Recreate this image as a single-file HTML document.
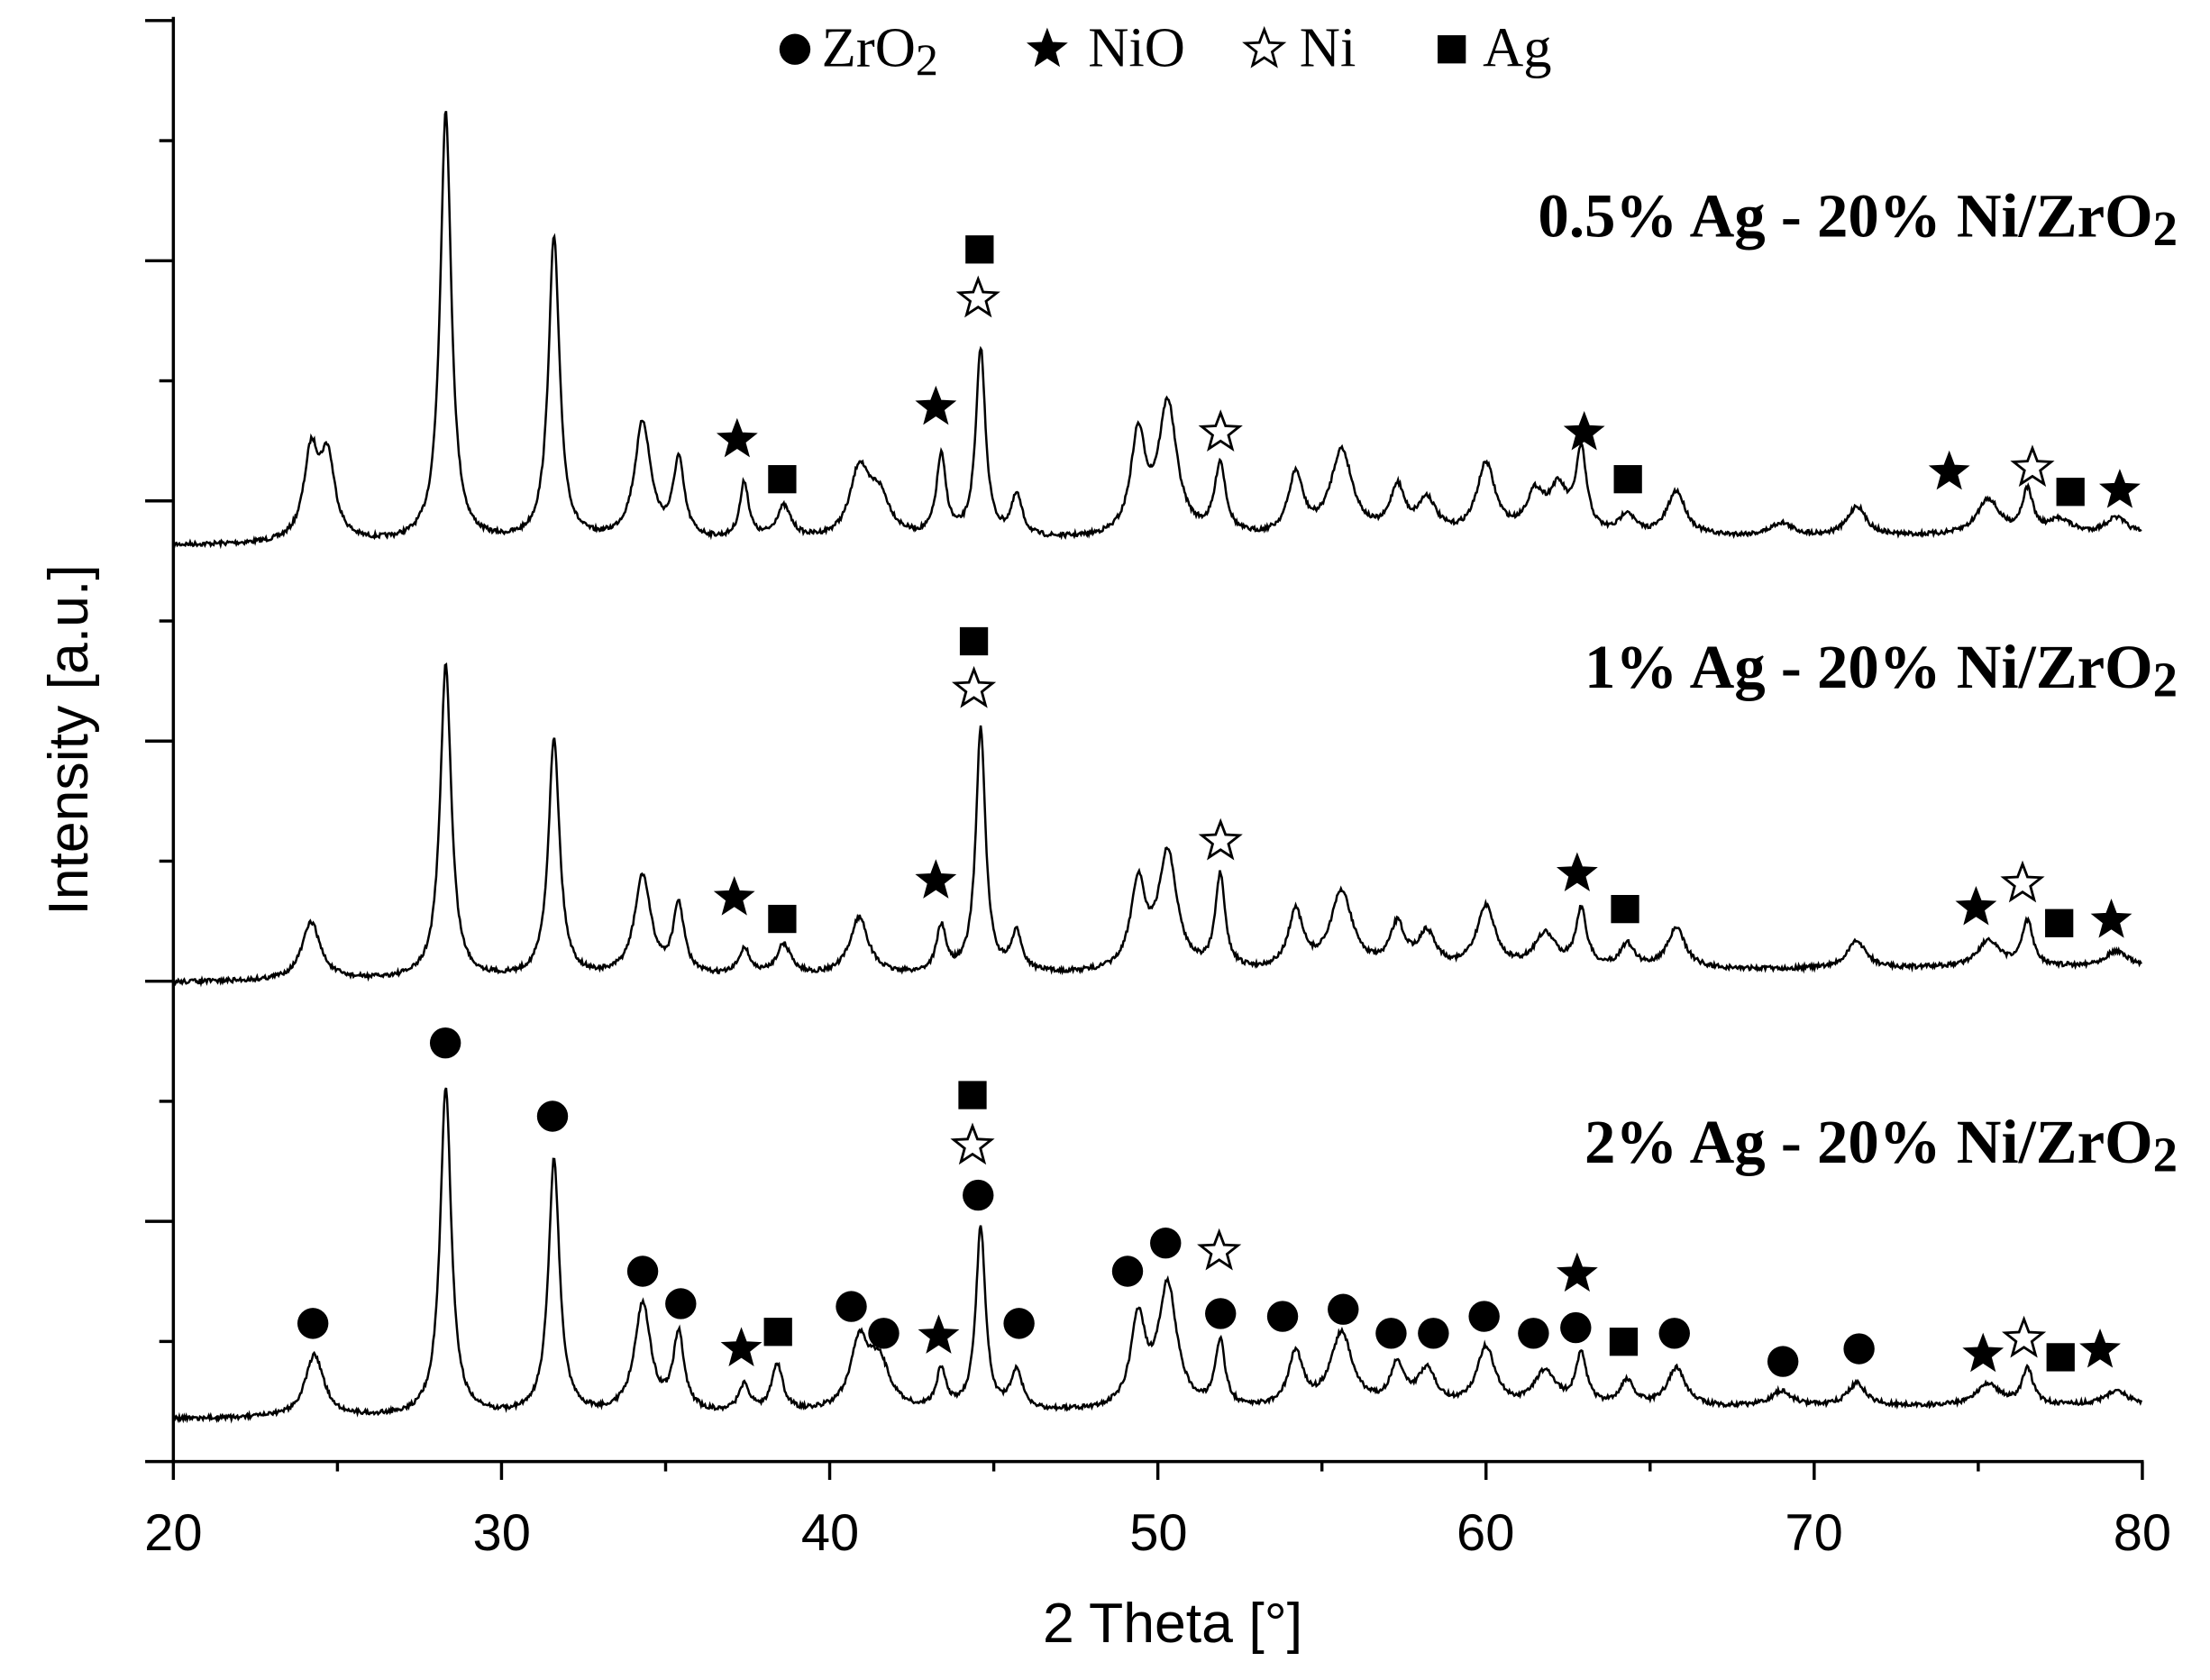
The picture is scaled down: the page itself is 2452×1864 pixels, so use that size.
<!DOCTYPE html>
<html><head><meta charset="utf-8"><style>
html,body{margin:0;padding:0;background:#fff;}
svg{display:block}
</style></head><body>
<svg id="s" width="2452" height="1864" viewBox="0 0 1568 1192" preserveAspectRatio="none" xmlns="http://www.w3.org/2000/svg">
<g id="traces" fill="none" stroke="#000" stroke-width="1.6"></g>
<g id="axes" stroke="#000" stroke-width="2.2"></g>
<g id="marks"></g>
<g font-family="Liberation Sans, sans-serif" font-size="37" fill="#000" text-anchor="middle">
<text x="123" y="1100">20</text><text x="356" y="1100">30</text><text x="589" y="1100">40</text>
<text x="822" y="1100">50</text><text x="1054" y="1100">60</text><text x="1287" y="1100">70</text><text x="1520" y="1100">80</text>
<text x="832" y="1165" font-size="40">2 Theta [°]</text>
<text transform="translate(62,525) rotate(-90)" font-size="40">Intensity [a.u.]</text>
</g>
<g font-family="Liberation Serif, serif" font-weight="bold" font-size="44" text-anchor="end">
<text x="1545" y="168">0.5% Ag - 20% Ni/ZrO<tspan font-size="35" dy="6">2</tspan></text>
<text x="1545" y="488">1% Ag - 20% Ni/ZrO<tspan font-size="35" dy="6">2</tspan></text>
<text x="1545" y="825">2% Ag - 20% Ni/ZrO<tspan font-size="35" dy="6">2</tspan></text>
</g>
<g font-family="Liberation Serif, serif" font-size="40">
<text x="583" y="47">ZrO<tspan font-size="32" dy="6">2</tspan></text>
<text x="772" y="47">NiO</text>
<text x="922" y="47">Ni</text>
<text x="1052" y="47">Ag</text>
</g>
</svg>
<script>
(function(){
var NS="http://www.w3.org/2000/svg";
function X(t){return 123+(t-20)*(1397/60);}
var seed=7;function rnd(){seed=(seed*16807)%2147483647;return seed/2147483647;}
var WF=1.35;
function trace(b0,b1,peaks){
  var d="";
  for(var t=20;t<=80;t+=0.03){
    var base=b0+(b1-b0)*(t-20)/60;
    var y=base+(rnd()-0.5)*3.2;
    for(var i=0;i<peaks.length;i++){var p=peaks[i];var w=(p[2]||0.18)*WF;var z=(t-p[0])/w;y-=p[1]/(1+z*z);}
    d+=(d?"L":"M")+X(t).toFixed(1)+","+y.toFixed(1);
  }
  var e=document.createElementNS(NS,"path");e.setAttribute("d",d);document.getElementById("traces").appendChild(e);
}
function conv(list,b0,b1){return list.map(function(p){var base=b0+(b1-b0)*(p[0]-20)/60;return [p[0],base-p[1],p[2]];});}
var tA=[[24.2,325,.2],[24.7,330,.2],[28.3,80,.15],[31.6,170,.15],[34.3,302,.22],[35.4,330,.15],[37.4,345,.12],[38.6,362,.2],[40.9,338,.25],[41.5,355,.3],[43.4,327,.13],[44.6,250,.13],[45.7,355,.15],[49.4,313,.2],[50.3,290,.25],[51.9,333,.15],[54.2,340,.2],[55.6,322,.3],[57.3,350,.2],[58.2,358,.25],[60,332,.25],[61.5,355,.25],[62.2,352,.25],[62.9,325,.15],[64.3,367,.2],[65.8,350,.25],[69,372,.3],[71.3,360,.25],[75.3,355,.3],[76.5,350,.15],[77.5,370,.3],[79.2,368,.3]];
trace(387,380,conv(tA,387,380));
var tB=[[24.2,655,.25],[28.3,472,.15],[31.6,525,.15],[34.3,623,.22],[35.4,645,.15],[37.4,675,.15],[38.6,672,.2],[40.9,652,.25],[43.4,660,.13],[44.6,518,.13],[45.7,665,.15],[49.4,630,.2],[50.3,608,.25],[51.9,625,.13],[54.2,650,.2],[55.6,635,.3],[57.3,660,.2],[58.2,665,.25],[60,645,.25],[61.8,665,.3],[62.9,648,.15],[64.3,672,.2],[65.8,660,.25],[71.3,668,.25],[75.3,668,.3],[76.5,655,.15],[79.2,675,.3]];
trace(697,686,conv(tB,697,686));
var tC=[[24.3,962,.25],[28.3,772,.15],[31.6,824,.15],[34.3,927,.22],[35.4,950,.15],[37.4,985,.15],[38.4,970,.15],[40.9,957,.25],[41.5,970,.3],[43.4,975,.13],[44.6,873,.13],[45.7,975,.15],[49.4,940,.2],[50.3,915,.25],[51.9,955,.13],[54.2,963,.2],[55.6,948,.3],[57.3,972,.2],[58.2,975,.25],[60,958,.25],[61.8,975,.3],[62.9,963,.15],[64.3,982,.2],[65.8,972,.25],[69,988,.3],[71.3,982,.25],[75.3,982,.3],[76.5,972,.15],[79.2,987,.3]];
trace(1007,997,conv(tC,1007,997));
var ax=document.getElementById("axes");
function L(x1,y1,x2,y2){var e=document.createElementNS(NS,"line");e.setAttribute("x1",x1);e.setAttribute("y1",y1);e.setAttribute("x2",x2);e.setAttribute("y2",y2);ax.appendChild(e);}
L(123,12,123,1038);L(122,1037,1521,1037);
for(var i=0;i<=12;i++){var y=1037-i*85.2;L(i%2==0?103:113,y,123,y);}
for(var t=20;t<=80;t+=5){var x=X(t);L(x,1037,x,t%10==0?1050:1044);}
var mk=document.getElementById("marks");
function star(x,y,r,fill){var pts=[];for(var i=0;i<10;i++){var a=-Math.PI/2+i*Math.PI/5;var rr=i%2?r*0.42:r;pts.push((x+rr*Math.cos(a)).toFixed(1)+","+(y+rr*Math.sin(a)).toFixed(1));}
 var e=document.createElementNS(NS,"polygon");e.setAttribute("points",pts.join(" "));e.setAttribute("fill",fill?"#000":"#fff");e.setAttribute("stroke","#000");e.setAttribute("stroke-width",fill?1:1.8);mk.appendChild(e);}
function circ(x,y){var e=document.createElementNS(NS,"circle");e.setAttribute("cx",x);e.setAttribute("cy",y);e.setAttribute("r",11);mk.appendChild(e);}
function sq(x,y){var e=document.createElementNS(NS,"rect");e.setAttribute("x",x-10);e.setAttribute("y",y-10);e.setAttribute("width",20);e.setAttribute("height",20);mk.appendChild(e);}
[[523,312],[664,289],[1124,307],[1383,335],[1504,348],[521,637],[664,625],[1119,620],[1402,644],[1498,653],[526,957],[666,948],[1119,904],[1407,961],[1490,958],[743,35]].forEach(function(p){star(p[0],p[1],14,true);});
[[694,212],[866,307],[1442,332],[691,489],[866,597],[1435,627],[690,813],[865,888],[1436,950],[897,35]].forEach(function(p){star(p[0],p[1],14,false);});
[[695,177],[555,340],[1155,340],[1469,349],[691,455],[555,652],[1153,645],[1461,655],[690,777],[552,945],[1152,952],[1462,963],[1030,35]].forEach(function(p){sq(p[0],p[1]);});
[[222,939],[316,740],[392,792],[456,902],[483,925],[604,927],[627,946],[694,848],[723,939],[800,902],[827,882],[866,932],[910,934],[953,929],[987,946],[1017,946],[1053,934],[1088,946],[1118,942],[1188,946],[1265,966],[1319,957],[564,35]].forEach(function(p){circ(p[0],p[1]);});
})();
</script>
</body></html>
